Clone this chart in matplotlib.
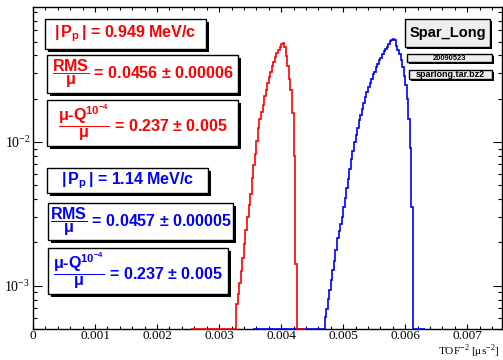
import numpy as np
import matplotlib
matplotlib.use("Agg")
import matplotlib.pyplot as plt
from matplotlib.patches import Rectangle
from matplotlib.ticker import MultipleLocator, LogLocator, FuncFormatter, NullFormatter

plt.rcParams['font.family'] = ['Liberation Serif', 'DejaVu Serif']
plt.rcParams['mathtext.fontset'] = 'custom'
plt.rcParams['mathtext.rm'] = 'Liberation Sans:bold'
plt.rcParams['mathtext.it'] = 'Liberation Sans:bold'
plt.rcParams['mathtext.bf'] = 'Liberation Sans:bold'
plt.rcParams['mathtext.sf'] = 'Liberation Sans:bold'

# histogram contents (TOF^-2 distributions), bin width 2.5e-5
bin_w = 0.000025

red_range = (0.00255, 0.0044)
red_first = 0.003275
red_vals = [7.41e-4, 8.71e-4, 1.047e-3, 1.259e-3, 1.549e-3, 1.950e-3, 2.455e-3,
            3.020e-3, 3.631e-3, 4.365e-3, 5.623e-3, 6.918e-3, 8.318e-3, 1.023e-2,
            1.259e-2, 1.445e-2, 1.622e-2, 1.820e-2, 2.089e-2, 2.291e-2, 2.570e-2,
            2.818e-2, 3.090e-2, 3.388e-2, 3.631e-2, 3.890e-2, 4.169e-2, 4.365e-2,
            4.571e-2, 4.842e-2, 4.898e-2, 4.571e-2, 3.981e-2, 3.388e-2, 2.754e-2,
            2.291e-2, 1.585e-2, 7.943e-3, 1.413e-3]

blue_range = (0.00355, 0.006325)
blue_first = 0.0047
blue_vals = [6.03e-4, 6.92e-4, 8.13e-4, 9.33e-4, 1.096e-3, 1.288e-3, 1.479e-3,
             1.778e-3, 2.138e-3, 2.399e-3, 2.692e-3, 3.020e-3, 3.548e-3, 4.074e-3,
             4.786e-3, 5.495e-3, 6.457e-3, 7.586e-3, 8.710e-3, 1.000e-2, 1.122e-2,
             1.259e-2, 1.413e-2, 1.549e-2, 1.698e-2, 1.862e-2, 2.042e-2, 2.239e-2,
             2.399e-2, 2.570e-2, 2.754e-2, 2.951e-2, 3.090e-2, 3.311e-2, 3.467e-2,
             3.715e-2, 3.846e-2, 4.074e-2, 4.266e-2, 4.467e-2, 4.571e-2, 4.786e-2,
             5.012e-2, 5.129e-2, 5.248e-2, 5.129e-2, 4.677e-2, 4.365e-2, 4.074e-2,
             3.715e-2, 3.311e-2, 2.884e-2, 2.512e-2, 1.995e-2, 1.445e-2, 9.120e-3,
             3.548e-3]

red_texts = [r'$|\,\mathrm{P}_{\mathrm{p}}\,|$ = 0.949 MeV/c',
             r'$\dfrac{\mathrm{RMS}}{\mu}$ = 0.0456 $\pm$ 0.00006',
             r'$\dfrac{\mu‐\mathrm{Q}^{10^{-4}}}{\mu}$ = 0.237 $\pm$ 0.005']
blue_texts = [r'$|\,\mathrm{P}_{\mathrm{p}}\,|$ = 1.14 MeV/c',
              r'$\dfrac{\mathrm{RMS}}{\mu}$ = 0.0457 $\pm$ 0.00005',
              r'$\dfrac{\mu‐\mathrm{Q}^{10^{-4}}}{\mu}$ = 0.237 $\pm$ 0.005']
info_texts = ['Spar_Long', '20090523', 'sparlong.tar.bz2']

ymin, ymax = 5e-4, 0.087
xmin, xmax = 0, 0.00756

W, H = 503, 360
fig = plt.figure(figsize=(W / 100, H / 100), dpi=100)
ax = fig.add_axes([33 / W, 31 / H, 469 / W, 322 / H])


def padded(vals, first, rng):
    nb = int(round((first - rng[0]) / bin_w))
    na = int(round((rng[1] - first) / bin_w)) - len(vals)
    v = np.concatenate([np.zeros(nb), vals, np.zeros(na)])
    edges = rng[0] + bin_w * np.arange(len(v) + 1)
    v[v <= 0] = ymin  # empty bins sit on the frame, like ROOT
    return v, edges


for vals, first, rng, col in [(blue_vals, blue_first, blue_range, 'blue'),
                              (red_vals, red_first, red_range, 'red')]:
    v, e = padded(vals, first, rng)
    ax.stairs(v, e, baseline=None, color=col, lw=1.2, clip_on=False, zorder=3)

ax.set_yscale('log')
ax.set_xlim(xmin, xmax)
ax.set_ylim(ymin, ymax)

ax.xaxis.set_major_locator(MultipleLocator(0.001))
ax.xaxis.set_minor_locator(MultipleLocator(0.0002))
ax.xaxis.set_major_formatter(FuncFormatter(lambda v, p: '0' if abs(v) < 1e-12 else f'{v:g}'))
ax.yaxis.set_major_locator(LogLocator(base=10))
ax.yaxis.set_minor_locator(LogLocator(base=10, subs=np.arange(2, 10)))
ax.yaxis.set_minor_formatter(NullFormatter())

ax.tick_params(which='both', direction='in', top=True, right=True, labelsize=10, width=0.8)
ax.tick_params(axis='x', which='major', length=3.8, pad=1, labelsize=9.5)
ax.tick_params(axis='x', which='minor', length=1.9)
ax.tick_params(axis='y', which='major', length=6.5, pad=2)
ax.tick_params(axis='y', which='minor', length=3.2)
for s in ax.spines.values():
    s.set_linewidth(1.0)

fig.text(499 / W, 0.5 / H, r'TOF$^{\mathdefault{-2}}$ [μs$^{\mathdefault{-2}}$]',
         ha='right', va='bottom', fontsize=8.2)


def pave(x0, y0, x1, y1, txt, color, size, fill='white', sh=3):
    fig.add_artist(Rectangle(((x0 + sh) / W, 1 - (y1 + sh) / H), (x1 - x0) / W, (y1 - y0) / H,
                             transform=fig.transFigure, facecolor='black', edgecolor='none'))
    fig.add_artist(Rectangle((x0 / W, 1 - y1 / H), (x1 - x0) / W, (y1 - y0) / H,
                             transform=fig.transFigure, facecolor=fill, edgecolor='black', lw=1))
    fig.text((x0 + x1) / 2 / W, 1 - (y0 + y1) / 2 / H, txt, color=color, fontsize=size,
             ha='center', va='center', family='Liberation Sans', fontweight='bold',
             math_fontfamily='custom')


red_boxes = [(45, 19, 206, 49), (47, 55, 238, 93), (47, 100, 238, 146)]
blue_boxes = [(47, 168, 208, 193), (48, 203, 233, 240), (48, 248, 228, 294)]
for b, t in zip(red_boxes, red_texts):
    pave(*b, t, 'red', 11.5)
for b, t in zip(blue_boxes, blue_texts):
    pave(*b, t, 'blue', 11.5)

info_boxes = [(405, 19, 490, 47), (407, 54, 492, 62), (409, 70, 492, 79)]
info_sizes = [10.5, 5.4, 6.5]
for b, t, s in zip(info_boxes, info_texts, info_sizes):
    pave(*b, t, 'black', s, fill='#eeeeee', sh=2)

fig.savefig('out.png', dpi=100)
